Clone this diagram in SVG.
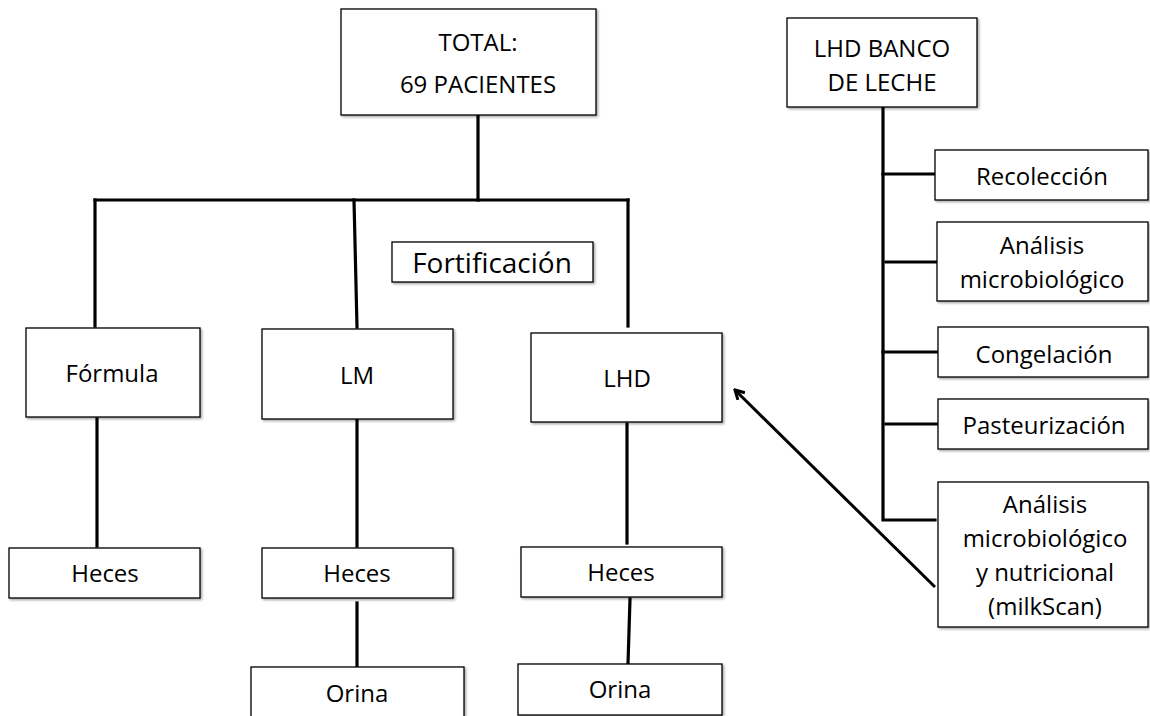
<svg xmlns="http://www.w3.org/2000/svg" width="1150" height="716" viewBox="0 0 1150 716">
<style>
.box{fill:#fff;stroke:#000;stroke-width:1.3;filter:url(#sh)}
.t{font-family:"Open Sans","Liberation Sans",sans-serif;font-size:24px;fill:#000;text-anchor:middle}
.c{stroke:#000;stroke-width:3.2;fill:none;stroke-linecap:square}
</style>
<defs>
<filter id="sh" x="-5%" y="-5%" width="115%" height="120%">
<feDropShadow dx="1.5" dy="1.5" stdDeviation="1" flood-color="#000" flood-opacity="0.35"/>
</filter>
<marker id="ah" markerWidth="12" markerHeight="12" refX="10" refY="6" orient="auto" markerUnits="userSpaceOnUse">
<path d="M1,1 L10,6 L1,11" fill="none" stroke="#000" stroke-width="3"/>
</marker>
</defs>
<g id="connectors">
<path class="c" d="M478,116 V200"/>
<path class="c" d="M95,200 H628"/>
<path class="c" d="M95,200 V326"/>
<path class="c" d="M354,200 L357,327"/>
<path class="c" d="M628,200 V326"/>
<path class="c" d="M97,419 V546"/>
<path class="c" d="M357,420 V546"/>
<path class="c" d="M627,424 V543"/>
<path class="c" d="M357,603 V666"/>
<path class="c" d="M630,599 L628,664"/>
<path class="c" d="M883,108 V520 H935"/>
<path class="c" d="M883,174 H935"/>
<path class="c" d="M886,262 H937"/>
<path class="c" d="M883,352 H937"/>
<path class="c" d="M886,424 H937"/>
<path d="M935,587 L735,390" stroke="#000" stroke-width="3" fill="none" marker-end="url(#ah)"/>
</g>
<g id="total"><rect class="box" x="341" y="9" width="255" height="106"/><text class="t" x="478" y="51">TOTAL:</text><text class="t" x="478" y="93">69 PACIENTES</text></g>
<g id="banco"><rect class="box" x="787" y="18" width="190" height="89"/><text class="t" x="882" y="57">LHD BANCO</text><text class="t" x="882" y="91">DE LECHE</text></g>
<g id="fortificacion"><rect class="box" x="392" y="242" width="201" height="40"/><text class="t" x="492" y="273" style="font-size:28px">Fortificación</text></g>
<g id="formula"><rect class="box" x="26" y="328" width="174" height="89"/><text class="t" x="112" y="382">Fórmula</text></g>
<g id="lm"><rect class="box" x="262" y="329" width="191" height="90"/><text class="t" x="357" y="384">LM</text></g>
<g id="lhd"><rect class="box" x="531" y="333" width="191" height="89"/><text class="t" x="627" y="387">LHD</text></g>
<g id="heces1"><rect class="box" x="9" y="548" width="191" height="50"/><text class="t" x="105" y="582">Heces</text></g>
<g id="heces2"><rect class="box" x="262" y="548" width="191" height="50"/><text class="t" x="357" y="582">Heces</text></g>
<g id="heces3"><rect class="box" x="521" y="547" width="201" height="50"/><text class="t" x="621" y="581">Heces</text></g>
<g id="orina2"><rect class="box" x="251" y="667" width="213" height="60"/><text class="t" x="357" y="702">Orina</text></g>
<g id="orina3"><rect class="box" x="518" y="664" width="204" height="51"/><text class="t" x="620" y="698">Orina</text></g>
<g id="recoleccion"><rect class="box" x="935" y="150" width="213" height="50"/><text class="t" x="1042" y="185">Recolección</text></g>
<g id="analisis1"><rect class="box" x="937" y="222" width="211" height="79"/><text class="t" x="1042" y="254">Análisis</text><text class="t" x="1042" y="288">microbiológico</text></g>
<g id="congelacion"><rect class="box" x="938" y="327" width="210" height="50"/><text class="t" x="1044" y="363">Congelación</text></g>
<g id="pasteurizacion"><rect class="box" x="938" y="399" width="210" height="50"/><text class="t" x="1044" y="434">Pasteurización</text></g>
<g id="analisis2"><rect class="box" x="938" y="482" width="210" height="145"/><text class="t" x="1045" y="513">Análisis</text><text class="t" x="1045" y="547">microbiológico</text><text class="t" x="1045" y="581">y nutricional</text><text class="t" x="1045" y="615">(milkScan)</text></g>
</svg>
